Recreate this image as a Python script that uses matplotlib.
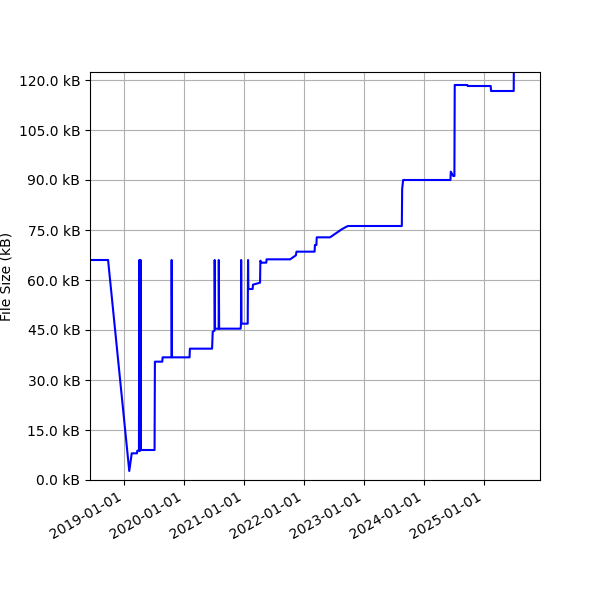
import matplotlib
matplotlib.use("Agg")
import matplotlib.pyplot as plt
import matplotlib.dates as mdates
import matplotlib.ticker as mticker
import pandas as pd

# commit history: date, file size in kB
dates = [
    "2018-05-01", "2018-09-26", "2019-02-02", "2019-02-17", "2019-03-21",
    "2019-03-23", "2019-04-02", "2019-04-04", "2019-04-06", "2019-04-10",
    "2019-04-12", "2019-04-14", "2019-07-06", "2019-07-08", "2019-08-22",
    "2019-08-24", "2019-10-17", "2019-10-18", "2019-10-20", "2020-02-04",
    "2020-02-06", "2020-06-20", "2020-06-24", "2020-07-05", "2020-07-06",
    "2020-07-08", "2020-07-30", "2020-07-31", "2020-08-02", "2020-12-11",
    "2020-12-13", "2020-12-14", "2020-12-16", "2021-01-23", "2021-01-25",
    "2021-01-27", "2021-02-22", "2021-02-24", "2021-04-08", "2021-04-10",
    "2021-04-17", "2021-05-16", "2021-05-18", "2021-10-08", "2021-11-12",
    "2021-11-16", "2022-03-06", "2022-03-08", "2022-03-17", "2022-03-19",
    "2022-06-08", "2022-08-18", "2022-09-05", "2022-09-12", "2022-09-25",
    "2023-08-19", "2023-08-21", "2023-08-27", "2024-06-10", "2024-06-12",
    "2024-06-27", "2024-07-04", "2024-07-06", "2024-09-21", "2024-09-23",
    "2025-02-10", "2025-02-12", "2025-06-30", "2025-07-02", "2025-12-31",
]
sizes_kb = [
    66.0, 66.0, 2.7, 8.0, 8.0,
    8.8, 8.8, 66.0, 8.8, 8.8,
    66.0, 9.0, 9.0, 35.5, 35.5,
    36.8, 36.8, 66.0, 36.8, 36.8,
    39.4, 39.4, 44.5, 44.8, 66.0,
    45.4, 45.4, 66.0, 45.4, 45.4,
    46.9, 66.0, 46.9, 46.9, 66.0,
    57.3, 57.3, 58.6, 59.2, 65.8,
    65.2, 65.2, 66.2, 66.2, 67.4,
    68.5, 68.5, 70.5, 70.5, 72.8,
    72.8, 75.2, 75.7, 75.9, 76.2,
    76.2, 87.3, 90.0, 90.0, 92.5,
    91.2, 91.2, 118.5, 118.5, 118.2,
    118.2, 116.7, 116.7, 135.0, 135.0,
]

x = pd.to_datetime(dates)

fig, ax = plt.subplots(figsize=(6, 6), dpi=100)
fig.subplots_adjust(left=0.15, right=0.9, top=0.88)
ax.plot(x, sizes_kb, color="blue")
ax.set_ylabel("File Size (kB)")
ax.yaxis.set_major_locator(mticker.MultipleLocator(15))
ax.yaxis.set_major_formatter(mticker.FuncFormatter(lambda v, p: f"{v:.1f} kB"))
ax.set_ylim(0, 122.4)
ax.set_xlim(pd.Timestamp("2018-06-08"), pd.Timestamp("2025-12-07"))
ax.xaxis.set_major_locator(mdates.YearLocator())
ax.xaxis.set_major_formatter(mdates.DateFormatter("%Y-%m-%d"))
ax.grid(True)
fig.autofmt_xdate()
fig.subplots_adjust(left=0.15, right=0.9, top=0.88)

fig.savefig("out.png")
